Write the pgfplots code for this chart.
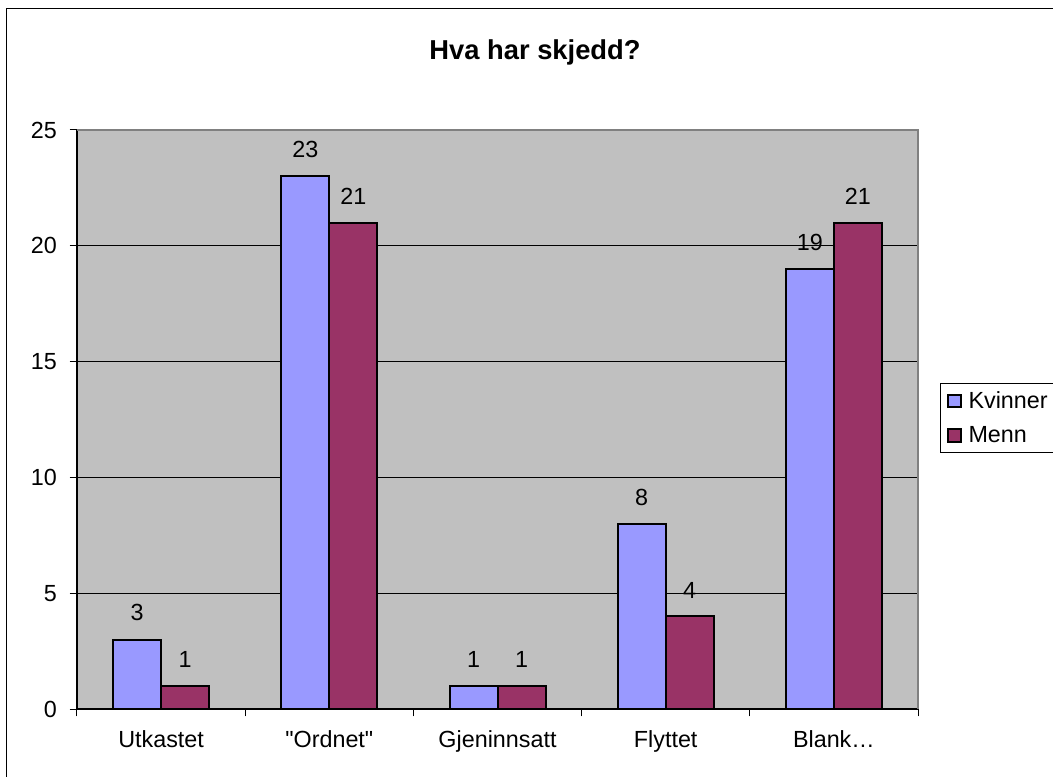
\documentclass[border=0pt]{standalone}
\usepackage{fontspec}
\setmainfont{Liberation Sans}[Ligatures=TeXOff]
\usepackage{pgfplots}
\pgfplotsset{compat=1.18}

\definecolor{kvinner}{HTML}{9999FF}
\definecolor{menn}{HTML}{993366}
\definecolor{plotgray}{HTML}{C0C0C0}
\definecolor{framegray}{HTML}{808080}
\newcommand{\lab}{\fontsize{17.5}{21}\selectfont}

\begin{document}
\begin{tikzpicture}
% page size and outer chart frame
\path[use as bounding box] (0,0) rectangle (789.75pt,582pt);
\draw[black, line width=0.75pt] (4.5pt,-10pt) -- (4.5pt,575.25pt) -- (800pt,575.25pt);
% title
\node[font=\bfseries\fontsize{20.5}{24}\selectfont] at (401.25pt,543pt) {Hva har skjedd?};
\begin{axis}[
  at={(57.75pt,50.25pt)}, anchor=south west,
  scale only axis, width=630.75pt, height=434.25pt,
  clip=false,
  /pgf/number format/assume math mode=true,
  axis background/.style={fill=plotgray},
  axis x line*=bottom, axis y line*=left,
  axis line style={black, line width=0.9pt},
  xmin=-0.5, xmax=4.5, ymin=0, ymax=25,
  xtick={-0.5,0.5,1.5,2.5,3.5,4.5},
  x tick label as interval,
  xticklabels={Utkastet,"Ordnet",Gjeninnsatt,Flyttet,Blank…},
  xticklabel style={yshift=-7pt},
  ytick={0,5,10,15,20,25},
  yticklabel style={xshift=-6pt},
  major tick length=5.5pt,
  tick align=outside,
  tick style={black, line width=0.75pt},
  ymajorgrids, grid style={black, line width=0.75pt},
  ticklabel style={font=\lab},
  ybar=0pt, bar width=36pt,
  nodes near coords,
  nodes near coords style={font=\lab, black, anchor=south, inner sep=0pt, yshift=13pt},
  legend style={
    at={(axis description cs:1.0262,0.563)}, anchor=north west,
    draw=black, line width=0.75pt, fill=white, font=\lab,
    inner xsep=5pt, inner ysep=4pt, row sep=8pt,
    nodes={inner xsep=5pt},
    legend cell align=left},
  legend image code/.code={\draw[#1, line width=1.5pt] (0pt,-4.75pt) rectangle (9.5pt,4.75pt);},
]
\addplot[fill=kvinner, draw=black, line width=1.5pt]
  coordinates {(0,3) (1,23) (2,1) (3,8) (4,19)};
\addplot[fill=menn, draw=black, line width=1.5pt]
  coordinates {(0,1) (1,21) (2,1) (3,4) (4,21)};
\legend{Kvinner,Menn}
\draw[framegray, line width=1.5pt] (rel axis cs:0,1) -- (rel axis cs:1,1) -- (rel axis cs:1,0);
\end{axis}
\end{tikzpicture}
\end{document}
